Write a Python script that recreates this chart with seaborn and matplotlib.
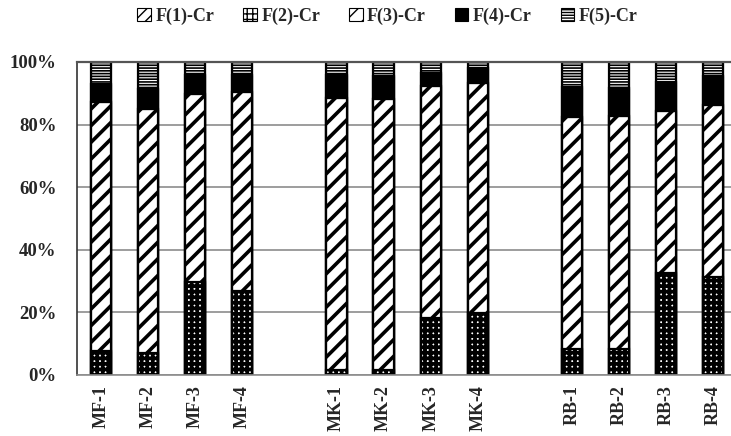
import numpy as np
import pandas as pd
import matplotlib
matplotlib.use("Agg")
import matplotlib.pyplot as plt
import matplotlib.patches as mpatches
from matplotlib.ticker import FixedLocator, PercentFormatter
import seaborn as sns

# ---- data (percent of total Cr in each fraction) ----
samples = ["MF-1", "MF-2", "MF-3", "MF-4",
           "MK-1", "MK-2", "MK-3", "MK-4",
           "RB-1", "RB-2", "RB-3", "RB-4"]
order = ["MF-1", "MF-2", "MF-3", "MF-4", " ",
         "MK-1", "MK-2", "MK-3", "MK-4", "  ",
         "RB-1", "RB-2", "RB-3", "RB-4"]
f1 = [0.0, 0.0, 0.0, 0.0, 0.0, 0.0, 0.0, 0.0, 0.0, 0.0, 0.0, 0.0]
f2 = [7.7, 7.0, 29.7, 26.8, 1.6, 1.6, 18.2, 19.8, 8.3, 8.3, 32.6, 31.3]
f3 = [79.5, 78.0, 60.1, 63.6, 86.9, 86.6, 74.1, 73.5, 74.1, 74.4, 51.7, 55.0]
f4 = [5.8, 6.4, 6.0, 5.4, 7.3, 7.3, 4.2, 4.7, 9.6, 9.0, 9.3, 9.2]
f5 = [7.0, 8.6, 4.2, 4.2, 4.2, 4.5, 3.5, 2.0, 8.0, 8.3, 6.4, 4.5]
series_names = ["F(1)-Cr", "F(2)-Cr", "F(3)-Cr", "F(4)-Cr", "F(5)-Cr"]
yticks = [0, 20, 40, 60, 80, 100]

sns.set_theme(style="white")
plt.rcParams["font.family"] = ["Liberation Serif", "DejaVu Serif"]
plt.rcParams["font.weight"] = "bold"

df = pd.DataFrame({"sample": samples, "F1": f1, "F2": f2, "F3": f3, "F4": f4, "F5": f5})
cols = ["F1", "F2", "F3", "F4", "F5"]
# cumulative tops for stacking (drawn from the top segment down)
cum = df[cols].cumsum(axis=1)
cum.insert(0, "sample", df["sample"])

fig = plt.figure(figsize=(7.31, 4.36), dpi=100)
ax = fig.add_axes([0.106, 0.140, 0.902, 0.718])

styles = [
    dict(fc="white", ec="black", hatch="///", hlw=1.0),
    dict(fc="white", ec="black", hatch="+++", hlw=2.7),
    dict(fc="white", ec="black", hatch="//", hlw=2.6),
    dict(fc="black", ec="black", hatch=None, hlw=1.0),
    dict(fc="white", ec="black", hatch="------", hlw=1.2),
]
W = 0.43
for col, st in reversed(list(zip(cols, styles))):
    n_before = len(ax.patches)
    with plt.rc_context({"hatch.linewidth": st["hlw"], "hatch.color": st["ec"]}):
        sns.barplot(data=cum, x="sample", y=col, order=order, ax=ax,
                    color=st["fc"], width=W, hatch=st["hatch"],
                    edgecolor=st["ec"], linewidth=0.8,
                    saturation=1, errorbar=None)
        for p in ax.patches[n_before:]:
            p.set_facecolor(st["fc"])
            if hasattr(p, "set_hatch_linewidth"):
                p.set_hatch_linewidth(st["hlw"])
    n_before = len(ax.patches)
    sns.barplot(data=cum, x="sample", y=col, order=order, ax=ax,
                color="black", width=W, errorbar=None)
    for p in ax.patches[n_before:]:
        p.set_fill(False)
        p.set_edgecolor("black")
        p.set_linewidth(1.6)

ax.set_xlim(-0.5, len(order) - 0.5)
ax.set_ylim(0, 100)
ax.set_xlabel("")
ax.set_ylabel("")
ax.yaxis.set_major_locator(FixedLocator(yticks))
ax.yaxis.set_major_formatter(PercentFormatter(decimals=0))
ax.grid(axis="y", color="#8c8c8c", linewidth=1.2)
ax.set_axisbelow(True)
for lbl in ax.get_yticklabels():
    lbl.set_fontsize(13.5)
    lbl.set_fontweight("bold")
ax.set_xticks(range(len(order)))
ax.set_xticklabels(order, rotation=90, fontsize=13, fontweight="bold")
ax.tick_params(axis="x", which="major", length=0, pad=7)
ax.set_xticks(np.arange(-0.5, len(order), 1.0), minor=True)
ax.tick_params(axis="x", which="minor", length=7, color="#8c8c8c", width=1.2)
ax.tick_params(axis="y", length=7, color="#444444", width=1.2, pad=8)
ax.spines["right"].set_visible(False)
ax.spines["left"].set_color("#333333")
ax.spines["left"].set_linewidth(1.2)
ax.spines["bottom"].set_color("#8c8c8c")
ax.spines["bottom"].set_linewidth(1.2)
ax.spines["top"].set_color("#555555")
ax.spines["top"].set_linewidth(1.6)

handles = []
for name, st in zip(series_names, styles):
    h = mpatches.Patch(facecolor=st["fc"], edgecolor=st["ec"],
                       hatch=st["hatch"], linewidth=0.8, label=name)
    handles.append(h)
leg = fig.legend(handles=handles, loc="center", bbox_to_anchor=(0.53, 0.962), ncol=5,
                 frameon=False, prop={"family": "Liberation Serif", "weight": "bold", "size": 13},
                 handlelength=0.75, handleheight=0.75, handletextpad=0.25, columnspacing=1.6)

fig.savefig("out.png", dpi=100)
